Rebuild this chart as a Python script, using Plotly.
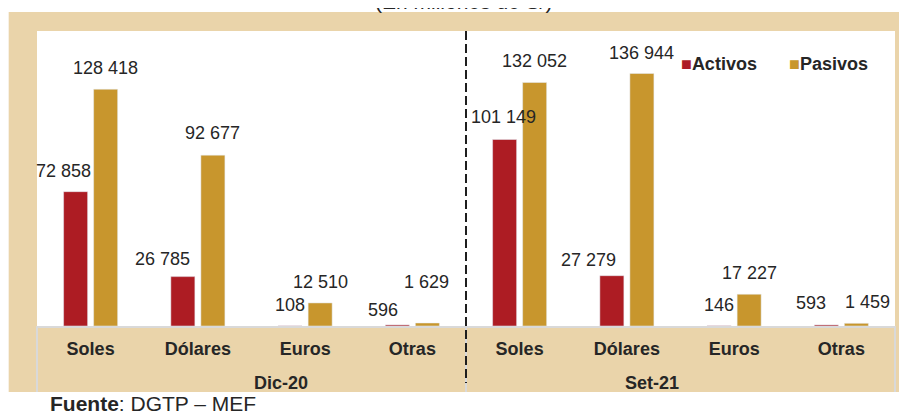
import plotly.graph_objects as go

# datos (millones de S/)
periodos = ["Dic-20", "Set-21"]
monedas = ["Soles", "Dólares", "Euros", "Otras"]
activos = [72858, 26785, 108, 596, 101149, 27279, 146, 593]
pasivos = [128418, 92677, 12510, 1629, 132052, 136944, 17227, 1459]

# posiciones de las etiquetas de datos (px, respecto al tope de cada barra)
act_dx = [-12, -20, 0, -14, -1, -23, 0, -15]
act_dy = [21, 18, 21, 15, 23, 16, 21, 22]
pas_dx = [0, 0, 0, -1, 0, 0, 0, 11]
pas_dy = [21, 22, 21, 41, 22, 21, 21, 21]

ROJO = "#AD1C23"
ORO = "#C8962D"
BEIGE = "#EAD4AA"
TXT = "#262626"
FONT = "Liberation Sans, Arial, sans-serif"

etiquetas = monedas * len(periodos)
xs = list(range(len(etiquetas)))

BARGAP = 0.44
off = (1 - BARGAP) / 4  # centro de cada barra dentro del grupo

def fmt(v):
    return f"{v:,}".replace(",", " ")

fig = go.Figure()
fig.add_trace(go.Bar(x=xs, y=activos, name="Activos", marker_color=ROJO))
fig.add_trace(go.Bar(x=xs, y=pasivos, name="Pasivos", marker_color=ORO))

anns = []
for i in xs:
    anns.append(dict(x=i - off, y=activos[i], text=fmt(activos[i]), showarrow=False,
                     xshift=act_dx[i], yshift=act_dy[i], yanchor="middle"))
    anns.append(dict(x=i + off, y=pasivos[i], text=fmt(pasivos[i]), showarrow=False,
                     xshift=pas_dx[i], yshift=pas_dy[i], yanchor="middle"))
for a in anns:
    a["font"] = dict(family=FONT, size=18, color=TXT)

# etiquetas de periodo
for k, p in enumerate(periodos):
    anns.append(dict(x=(k + 0.5) / len(periodos), y=-0.193, xref="paper", yref="paper",
                     text=f"<b>{p}</b>", showarrow=False, yanchor="middle",
                     font=dict(family=FONT, size=18, color=TXT)))

# leyenda
anns.append(dict(x=0.748, y=0.888, xref="paper", yref="paper", xanchor="left",
                 yanchor="middle", showarrow=False,
                 text=f"<span style='color:{ROJO}'>■</span><b>Activos</b>",
                 font=dict(family=FONT, size=18, color=TXT)))
anns.append(dict(x=0.874, y=0.888, xref="paper", yref="paper", xanchor="left",
                 yanchor="middle", showarrow=False,
                 text=f"<span style='color:{ORO}'>■</span><b>Pasivos</b>",
                 font=dict(family=FONT, size=18, color=TXT)))

# titulo (cortado arriba) y fuente
anns.append(dict(x=0.5, y=1.054, xref="paper", yref="paper", yanchor="bottom",
                 xshift=-3, showarrow=False, text="(En millones de S/)",
                 font=dict(family=FONT, size=21, color=TXT)))
anns.append(dict(x=0.013, y=-0.262, xref="paper", yref="paper", xanchor="left",
                 yanchor="middle", showarrow=False, text="<b>Fuente</b>: DGTP – MEF",
                 font=dict(family=FONT, size=21, color=TXT)))

shapes = [
    # fondo beige
    dict(type="rect", xref="paper", yref="paper", x0=-0.033, x1=1.012, y0=-0.2237, y1=1.064,
         fillcolor=BEIGE, line_width=0, layer="below"),
    # area del grafico
    dict(type="rect", xref="paper", yref="paper", x0=0, x1=1, y0=0, y1=1,
         fillcolor="white", line_width=0, layer="below"),
]
for xp in [0, 0.5, 1]:
    shapes.append(dict(type="line", xref="paper", yref="paper", x0=xp, x1=xp, y0=0, y1=-0.2237,
                       line=dict(color="#D9D9D9", width=2)))
shapes.append(dict(type="line", xref="paper", yref="paper", x0=0.5, x1=0.5, y0=1, y1=-0.193,
                   line=dict(color="#1E1E1E", width=2, dash="9px,4px")))

fig.update_layout(
    width=907, height=412,
    margin=dict(l=29, r=20, t=23, b=94),
    barmode="group", bargap=BARGAP, bargroupgap=0.2,
    paper_bgcolor="white", plot_bgcolor="rgba(0,0,0,0)",
    showlegend=False,
    annotations=anns, shapes=shapes,
    font=dict(family=FONT, color=TXT),
)
fig.update_xaxes(range=[-0.5, len(xs) - 0.5], tickvals=xs, ticktext=etiquetas,
                 tickfont=dict(family=FONT, size=18, color=TXT, weight="bold"),
                 showline=True, linecolor="#D9D9D9", linewidth=2, showgrid=False,
                 ticks="", zeroline=False, ticklabelstandoff=5)
fig.update_yaxes(range=[0, 160000], visible=False, showgrid=False, zeroline=False)

fig.write_html("out.html")
